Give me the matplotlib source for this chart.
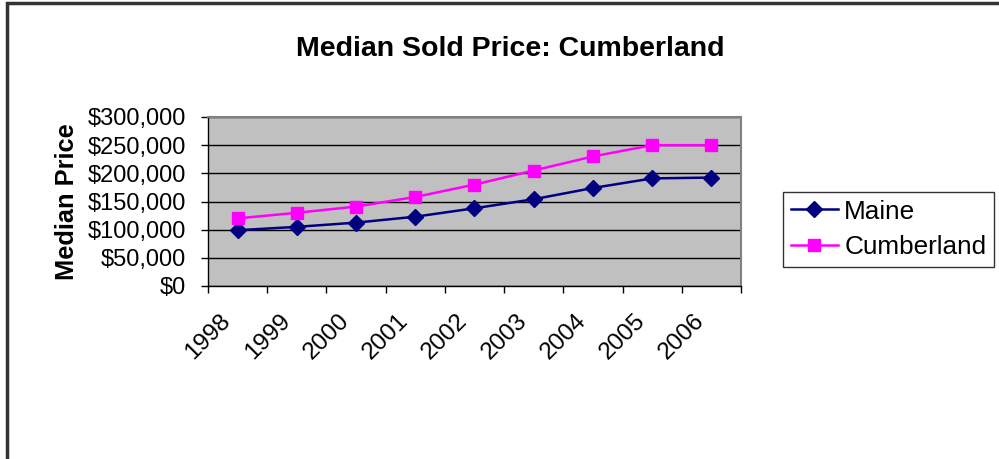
import matplotlib
matplotlib.use("Agg")
import matplotlib.pyplot as plt
from matplotlib.patches import Rectangle
from matplotlib.ticker import FuncFormatter, MultipleLocator, FixedLocator
from matplotlib.transforms import ScaledTranslation

plt.rcParams['font.family'] = ['Liberation Sans', 'DejaVu Sans']

years = ['1998', '1999', '2000', '2001', '2002', '2003', '2004', '2005', '2006']
maine = [99000, 105000, 112500, 123000, 138000, 154000, 174000, 191000, 192500]
cumberland = [120000, 130000, 141000, 158000, 180000, 205000, 230000, 250000, 250000]

fig = plt.figure(figsize=(9.99, 4.59), dpi=100)
W, H = 999, 459
ax = fig.add_axes([208 / W, 1 - 286 / H, (741 - 208) / W, (286 - 117) / H])

x = list(range(len(years)))
ax.plot(x, maine, color='#000080', lw=1.8, marker='D', ms=8, label='Maine', zorder=3)
ax.plot(x, cumberland, color='#FF00FF', lw=1.8, marker='s', ms=9, label='Cumberland', zorder=3)

ax.set_facecolor('#C0C0C0')
ax.set_xlim(-0.5, len(years) - 0.5)
ax.set_ylim(0, 300000)
ax.yaxis.set_major_locator(MultipleLocator(50000))
ax.yaxis.set_major_formatter(FuncFormatter(lambda v, p: '${:,.0f}'.format(v)))
ax.grid(axis='y', color='black', lw=1)
ax.set_axisbelow(True)

ax.set_xticks(x)
ax.set_xticklabels(years, rotation=45, ha='right', va='top', rotation_mode='anchor')
ax.xaxis.set_minor_locator(FixedLocator([i - 0.5 for i in range(len(years) + 1)]))
ax.tick_params(axis='x', which='major', length=0, pad=20, labelsize=17.5)
ax.tick_params(axis='x', which='minor', length=5, color='black', width=1)
ax.tick_params(axis='y', length=5, color='black', width=1, labelsize=17, pad=11)
off = ScaledTranslation(-18 / 100, 4 / 100, fig.dpi_scale_trans)
for lab in ax.get_xticklabels():
    lab.set_transform(lab.get_transform() + off)

for s in ax.spines.values():
    s.set_color('#808080')
    s.set_linewidth(1.5)
ax.spines['left'].set_color('black')
ax.spines['bottom'].set_color('black')
ax.spines['left'].set_linewidth(1)
ax.spines['bottom'].set_linewidth(1)

ax.set_ylabel('Median Price', fontsize=18.3, fontweight='bold', labelpad=6)
fig.text(510 / W, 1 - 49 / H, 'Median Sold Price: Cumberland', fontsize=20.5,
         fontweight='bold', ha='center', va='center')

leg = ax.legend(loc='center left', bbox_to_anchor=(783 / W, 1 - 267 / H, (993 - 783) / W, (267 - 192) / H),
                bbox_transform=fig.transFigure, fontsize=18.8, frameon=True, fancybox=False,
                borderpad=0.3, handlelength=1.8, handletextpad=0.25, labelspacing=0.45,
                borderaxespad=0)
leg.get_frame().set_edgecolor('black')
leg.get_frame().set_linewidth(1)

fig.patches.append(Rectangle((7 / W, -0.1), 1.2, 1 - 3 / H + 0.1, transform=fig.transFigure,
                             fill=False, edgecolor='#333333', lw=2.5))

fig.savefig('out.png', dpi=100)
